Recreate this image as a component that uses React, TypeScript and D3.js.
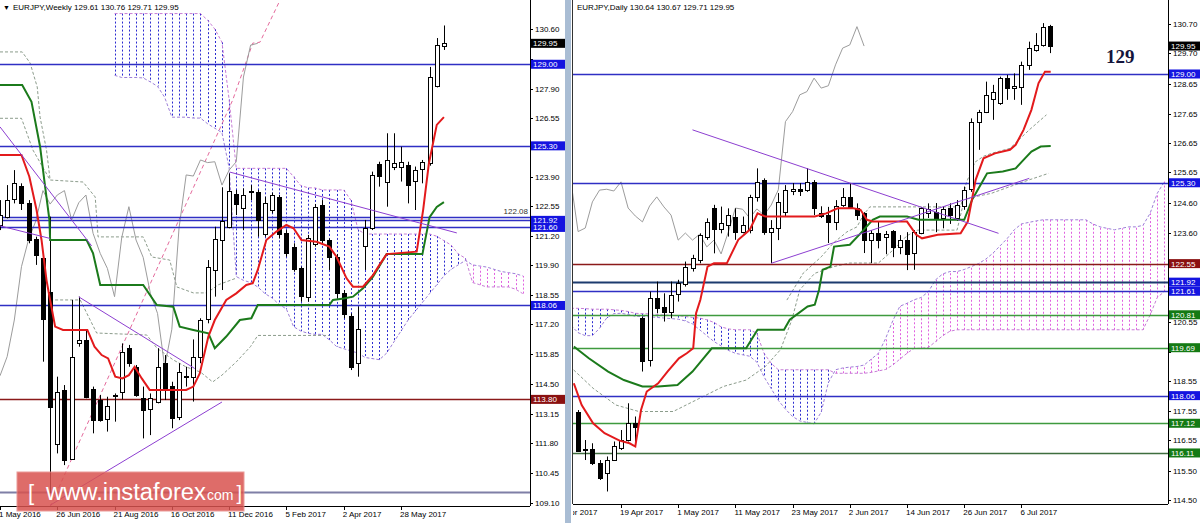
import React from "react";
import * as d3 from "d3";

// ---------------- WEEKLY (left panel) ----------------
const weeklyO = [121.71,122.09,122.87,123.48,122.69,121.06,120.20,118.69,111.81,114.23,111.13,116.37,116.49,114.26,113.77,112.89,113.95,114.15,116.11,115.28,113.85,113.39,113.70,115.44,114.41,113.02,114.83,114.83,115.74,117.48,119.67,121.03,121.63,123.10,122.47,123.21,123.22,121.33,122.39,123.00,121.33,120.73,119.74,118.46,120.88,122.62,121.03,120.24,118.64,117.58,115.44,120.73,121.56,124.48,123.68,124.36,124.36,124.43,123.72,124.28,124.52,128.02,129.80];
const weeklyH = [122.84,123.52,124.20,123.60,122.84,121.18,120.35,122.09,114.83,114.45,118.31,118.46,116.95,114.38,114.00,113.92,114.07,116.34,116.27,115.36,114.38,114.07,116.12,115.81,114.60,115.44,115.28,116.52,117.48,120.12,121.63,123.42,124.05,123.30,123.37,123.52,123.30,122.99,123.18,123.07,121.48,120.88,119.82,121.26,122.66,122.84,121.10,120.39,118.76,117.70,118.01,121.94,124.13,124.58,125.87,125.87,125.26,124.58,124.36,124.66,128.88,130.19,130.76];
const weeklyL = [121.48,122.01,122.69,122.39,120.88,119.90,115.51,109.54,111.35,110.82,111.05,116.19,113.85,112.26,112.79,112.34,112.79,113.80,115.28,113.92,112.03,112.18,113.62,113.77,112.49,112.86,114.38,113.70,115.44,117.25,118.46,118.76,121.56,122.16,121.48,122.84,121.18,121.18,122.24,121.10,120.27,119.59,118.23,118.23,120.73,120.88,119.67,118.38,117.48,115.13,114.83,119.67,121.48,123.45,122.54,124.20,123.68,122.69,122.39,123.60,124.40,127.95,129.65];
const weeklyC = [122.16,122.84,123.60,122.69,121.03,120.35,117.43,113.47,114.15,111.05,115.74,116.49,113.92,112.86,112.86,113.50,114.00,115.96,115.44,114.00,113.32,113.88,115.28,114.23,112.94,115.06,114.87,115.74,117.40,119.82,121.06,121.89,123.27,122.66,123.07,123.27,121.94,122.72,123.07,121.33,120.42,119.74,118.46,121.14,122.54,121.03,120.24,118.61,117.70,115.28,116.98,121.56,123.98,123.93,124.66,124.54,124.58,123.52,124.20,124.58,128.42,129.87,129.95];
const weeklyDateLabels = ["1 May 2016","26 Jun 2016","21 Aug 2016","16 Oct 2016","11 Dec 2016","5 Feb 2017","2 Apr 2017","28 May 2017"];
const weeklyDateIdx = [0,8,16,24,32,40,48,56];
const weeklyTicks = [130.60,129.25,127.90,126.55,125.20,123.90,122.55,121.20,119.90,118.55,117.20,115.85,114.50,113.15,111.80,110.45,109.10];
const weeklyTenkan: [number, number][] = [[0,124.89],[3,124.89],[4.1,123.9],[5.1,122.4],[5.8,121.03],[6.5,119.2],[7,118.31],[7.7,117.1],[8.8,116.95],[12.2,116.95],[13.2,116.19],[14.2,115.81],[15.1,115.66],[16.1,114.83],[17.1,114.75],[18,114.9],[18.8,115.28],[19.8,114.75],[20.9,114.23],[26,114.23],[27,114.38],[27.9,114.98],[29.1,116.65],[30,117.4],[31.6,118.31],[33,118.61],[34.4,118.99],[35.3,119.07],[36,119.67],[37.2,121.03],[38.6,121.41],[40,121.71],[41,121.56],[42.1,121.03],[44.2,120.95],[46,120.73],[47,120.27],[48.4,119.29],[49.3,118.91],[50.7,118.91],[52.1,119.44],[53,119.9],[54,120.39],[58.2,120.5],[59.1,122.4],[59.9,124.5],[61,126.25],[62,126.6]];
const weeklyKijun: [number, number][] = [[0,128.06],[3.1,128.06],[4.4,127.3],[5.6,125.26],[6.3,123.45],[6.9,121.94],[7,121.03],[12.1,121.03],[13,120.42],[14,118.99],[20,118.99],[21.9,118.08],[24.2,118.0],[25.1,117.1],[27,116.95],[29.1,116.8],[30,116.12],[31.6,116.65],[33.5,117.4],[35.1,117.48],[36,118.08],[46,118.08],[46.5,118.31],[48,118.38],[49.3,118.46],[50.7,118.84],[52.1,119.37],[54,120.39],[59,120.39],[60,122.07],[61,122.53],[62,122.75]];
const weeklyCloudStart = 16;
const weeklySpanA = [131.3,131.3,131.3,131.3,131.3,131.3,131.3,131.3,131.3,131.3,131.3,131.3,131.3,131.0,130.6,130.0,127.4,124.28,124.28,124.28,124.28,124.28,124.28,124.28,124.28,123.9,123.5,123.4,123.39,123.3,123.3,123.3,123.3,122.84,121.5,121.3,121.3,121.3,121.3,121.3,121.3,121.3,121.3,121.3,121.3,121.2,121.0,120.8,120.4,120.2,119.1,119.0,118.9,118.9,118.9,118.9,118.8,118.6];
const weeklySpanB = [128.5,128.4,128.4,128.4,128.38,128.2,128.0,127.5,126.6,126.6,126.6,126.56,126.56,126.3,126.1,125.9,124.3,119.37,119.2,119.1,118.9,118.6,118.4,118.1,117.9,117.1,116.9,116.8,116.75,116.75,116.5,116.2,116.1,116.0,115.9,115.7,115.65,115.6,115.9,116.4,116.9,117.4,117.8,118.2,118.6,119.0,119.4,119.7,119.9,120.1,119.9,119.85,119.8,119.7,119.6,119.55,119.5,119.4];
const weeklyDashG1: [number, number][] = [[0,129.56],[3.1,129.56],[4.2,129.06],[5.2,127.97],[5.6,126.6],[6.5,125.1],[7,123.75],[11.6,123.66],[13.3,122.98],[13.7,121.17],[20,121.17],[21.2,120.26],[23.7,120.12],[24.7,118.9],[27,118.63],[28.9,118.63],[30.5,119.0],[33,119.3]];
const weeklyDashG2: [number, number][] = [[7,118.31],[11.2,118.31],[13.5,116.81],[20.5,116.72],[21.9,116.13],[24.2,115.59],[26,115.27],[28,115.04],[29.7,114.59],[31,114.9],[33,115.5],[35,116.2],[36,116.7],[46,116.7]];
const weeklyDashG3: [number, number][] = [[0,126.55],[3,126.55],[4.6,125.11],[7,123.75]];
const weeklyTrends: [number, number][][] = [
  [[0,126.16],[12.8,120.76]],
  [[0,121.67],[7,121.1]],
  [[11,118.45],[27.2,115.2]],
  [[7,109.0],[31,113.68]],
  [[32.1,124.11],[63.8,121.35]],
];
const weeklyPinkDash: [number, number][] = [[7,108.92],[32.5,127.38],[35.3,129.96],[36.3,130.0],[39.1,131.9]];
const weeklyLevels = [129.00,125.30,122.08,121.92,121.60,118.06,113.80,109.60];
const weeklyLevelKinds = ["blue","blue","blue","blue","blue","blue","red","grey"];
const weeklyTags = [129.00,125.30,121.92,121.60,118.06,113.80];
const weeklyTagKinds = ["blue","blue","blue","blue","blue","red"];

// ---------------- DAILY (right panel) ----------------
const dailyStart = 2;
const dailyO = [117.52,116.23,116.24,115.76,115.42,115.87,116.27,116.55,117.12,120.69,119.27,121.37,121.09,120.92,121.49,121.88,122.39,122.68,123.47,124.43,123.70,123.87,124.15,123.64,123.70,124.83,125.40,123.63,123.76,124.31,125.00,125.08,125.05,125.33,124.27,124.20,123.97,124.54,124.82,124.44,124.27,123.35,123.59,123.44,123.66,123.12,123.35,122.91,123.59,124.27,124.30,124.10,124.45,124.10,124.51,125.11,127.38,127.72,128.15,128.00,128.86,128.52,128.57,129.31,129.82,129.99,130.64];
const dailyH = [117.57,116.55,116.44,115.87,115.99,116.50,116.89,117.80,117.35,120.75,121.60,121.94,121.54,121.94,122.00,122.62,122.85,123.58,124.09,124.55,124.49,124.43,124.43,124.15,124.89,125.79,125.45,124.03,124.95,125.22,125.29,125.29,125.80,125.39,124.50,124.48,124.71,125.12,125.29,124.60,124.30,123.69,123.98,123.66,123.69,123.52,123.62,123.69,124.48,124.60,124.61,124.50,124.60,124.71,125.17,127.49,127.78,128.74,128.63,128.91,128.97,129.02,129.42,130.10,130.39,130.73,130.67];
const dailyL = [116.15,115.87,115.70,115.19,114.80,115.87,116.21,116.50,116.33,118.88,119.05,120.86,120.58,120.69,121.26,121.77,122.28,122.56,123.36,122.90,123.58,123.47,123.36,123.58,123.58,124.66,123.53,122.57,123.35,124.14,124.88,124.85,124.99,124.20,124.10,123.25,123.69,124.48,124.44,124.03,122.91,122.57,123.07,122.87,122.77,122.87,122.33,122.34,123.55,124.10,123.62,123.75,123.90,124.00,124.38,124.99,126.42,127.67,127.44,127.95,128.12,128.12,127.95,129.14,129.76,129.93,129.71];
const dailyC = [116.21,116.18,115.76,115.25,115.87,116.33,116.55,117.12,116.98,119.22,121.37,121.03,120.92,121.49,121.88,122.45,122.73,123.53,123.98,123.70,123.92,124.21,123.64,123.87,124.83,125.34,123.64,123.76,124.65,125.05,125.08,125.02,125.33,124.44,124.17,123.97,124.51,124.82,124.48,124.20,123.35,123.59,123.35,123.55,123.12,123.35,122.88,123.62,124.44,124.40,124.10,124.41,124.20,124.54,125.06,127.38,127.72,128.29,128.40,128.86,128.52,128.60,129.31,129.88,129.99,130.61,129.95];
const dailyDateLabels = ["7 Apr 2017","19 Apr 2017","1 May 2017","11 May 2017","23 May 2017","2 Jun 2017","14 Jun 2017","26 Jun 2017","6 Jul 2017"];
const dailyDateIdx = [0,8,16,24,32,40,48,56,64];
const dailyTicks = [130.70,129.70,128.65,127.65,126.65,125.65,124.60,123.60,122.55,121.55,120.55,119.55,118.55,117.55,116.55,115.50,114.50];
const dailyTenkan: [number, number][] = [[1.4,118.48],[2.5,117.74],[4.1,117.12],[5.7,116.78],[7.8,116.53],[9.2,116.44],[10,116.33],[10.8,117.57],[11.6,118.2],[13.2,118.48],[14.5,118.88],[16.1,119.33],[17.2,119.5],[18.1,119.67],[18.5,120.86],[19.1,121.32],[20.1,122.45],[21,122.56],[22.8,122.56],[24.4,123.36],[26,123.7],[27.1,124.26],[28.2,124.15],[35.1,124.15],[36.7,124.26],[38.3,124.43],[40.5,124.43],[41.5,124.38],[42.4,124.04],[43.2,123.98],[48,123.98],[49.3,123.53],[50.1,123.41],[52.3,123.53],[55.5,123.58],[56.5,123.98],[57.6,125.4],[58.7,126.13],[60.3,126.3],[62.4,126.42],[63.2,126.59],[64.3,127.1],[65.4,127.78],[66.4,128.69],[67.3,129.08],[68.1,129.08]];
const dailyKijun: [number, number][] = [[1.4,119.73],[3.5,119.33],[6.2,118.88],[8.4,118.59],[11,118.37],[13.2,118.37],[15.9,118.42],[18,118.88],[20.7,119.67],[25.5,119.67],[27.1,120.3],[30.8,120.3],[31.6,120.64],[34.1,121.09],[35.1,121.15],[35.7,121.66],[36.2,122.34],[37.3,122.45],[37.8,123.13],[40,123.19],[41.5,123.58],[43.2,124.04],[44.2,124.15],[48,124.15],[49.6,124.04],[56,124.04],[57.1,124.72],[57.9,125.06],[58.7,125.4],[59.2,125.62],[61.4,125.68],[63.2,125.79],[64.3,126.08],[65.4,126.36],[66.7,126.53],[68.1,126.55]];
const dailyCloudStart = 1;
const dailySpanA = [121.03,121.03,121.02,121.00,121.00,121.00,120.98,120.96,120.92,120.86,120.85,120.84,120.82,120.80,120.80,120.78,120.75,120.72,120.70,120.64,120.55,120.40,120.33,120.30,120.30,120.30,120.18,119.50,119.16,118.94,118.94,118.94,118.94,118.94,118.94,118.94,118.94,118.82,118.82,118.82,118.82,118.82,118.85,118.90,118.95,119.10,119.30,119.50,119.67,119.67,119.70,119.90,120.10,120.25,120.30,120.30,120.30,120.30,120.30,120.30,120.30,120.30,120.30,120.30,120.30,120.30,120.30,120.30,120.30,120.30,120.30,120.30,120.30,120.30,120.30,120.30,120.30,120.30,120.30,120.30,120.30,120.80,121.40,121.60];
const dailySpanB = [120.45,120.20,120.10,120.10,120.35,120.70,120.85,120.86,120.82,120.76,120.75,120.74,120.72,120.70,120.68,120.66,120.60,120.50,120.30,120.10,119.90,119.75,119.60,119.50,119.45,119.40,119.20,118.70,118.30,117.90,117.60,117.35,117.20,117.15,117.10,117.50,118.50,118.94,119.00,119.03,119.05,119.10,119.30,119.50,120.00,120.60,121.10,121.20,121.32,121.40,121.60,122.00,122.20,122.28,122.28,122.35,122.45,122.55,122.70,122.90,123.15,123.40,123.70,123.90,123.95,124.00,124.04,124.04,124.04,124.04,124.04,124.04,124.04,123.90,123.80,123.75,123.70,123.75,123.80,123.80,123.85,124.26,124.94,125.34];
const dailyDashA: [number, number][] = [[0.87,119.05],[4.1,118.31],[7.3,117.74],[10.5,117.52],[15.3,117.52],[18.5,117.91],[22.3,118.37],[25.5,118.59],[28.2,119.05],[30.3,119.62],[31.9,120.64],[33,121.66],[35.1,122.22],[37.8,122.45],[40,122.57],[44,122.57],[46,123.0],[48,123.5],[49.5,123.69],[55,123.69],[56,124.72],[57.6,124.83],[59.8,124.94],[62.4,125.17],[65.1,125.4],[67.8,125.62]];
const dailyDashB: [number, number][] = [[31.2,121.31],[33.5,122.23],[36,122.78],[37.7,123.25],[39.6,123.63],[41,123.8],[41.9,124.2],[42.8,124.48],[55.5,124.48],[56.3,125.3],[57.5,126.0],[58.7,126.2],[59.8,126.3],[62.4,126.47],[65.1,127.1],[67.5,127.61]];
const dailyTrends: [number, number][][] = [
  [[18,127.1],[60.8,123.58]],
  [[29,122.56],[65.1,125.45]],
];
const dailyLevels = [129.00,125.30,122.55,121.92,121.61,120.81,119.69,118.06,117.12,116.11];
const dailyLevelKinds = ["blue","blue","red","navy","blue","green","green","blue","green","dgreen"];
const dailyTagKinds = ["blue","blue","red","blue","blue","green","green","blue","green","green"];

const LEVEL_COLORS: Record<string, string> = { blue: "#2f2fc4", red: "#8b1a1a", grey: "#7f7fa6", navy: "#1c3b6e", green: "#3f9a3f", dgreen: "#3f6e3f" };
const TAG_COLORS: Record<string, string> = { blue: "#1414e0", red: "#8a1010", green: "#147a14", black: "#000000" };
const FONT = "'Liberation Sans', Arial, sans-serif";

type XY = [number, number];

function Candles(props: { o: number[]; h: number[]; l: number[]; c: number[]; start: number; xs: (v: number) => number; ys: (v: number) => number }) {
  const { o, h, l, c, start, xs, ys } = props;
  return (
    <g>
      {o.map((ov, k) => {
        const x = Math.round(xs(start + k)) + 0.5;
        const yo = ys(ov), yc = ys(c[k]);
        const up = c[k] >= ov;
        const top = Math.round(Math.min(yo, yc)) + 0.5;
        const hh = Math.max(1, Math.round(Math.abs(yo - yc)));
        return (
          <g key={k}>
            <line x1={x} x2={x} y1={ys(h[k])} y2={ys(l[k])} stroke="#000" strokeWidth={1} />
            <rect x={x - 2} y={top} width={4} height={hh} fill={up ? "#fff" : "#000"} stroke="#000" strokeWidth={1} />
          </g>
        );
      })}
    </g>
  );
}

function Cloud(props: { a: number[]; b: number[]; start: number; xs: (v: number) => number; ys: (v: number) => number }) {
  const { a, b, start, xs, ys } = props;
  const la = d3.line<XY>().x(d => xs(d[0])).y(d => ys(d[1]));
  const ptsA: XY[] = a.map((v, k) => [start + k, v]);
  const ptsB: XY[] = b.map((v, k) => [start + k, v]);
  return (
    <g>
      {a.map((v, k) => {
        const x = Math.round(xs(start + k)) + 0.5;
        const blue = v >= b[k];
        return <line key={k} x1={x} x2={x} y1={ys(v)} y2={ys(b[k])} stroke={blue ? "#2b2bd0" : "#e060e0"} strokeWidth={1} strokeDasharray="2,2" />;
      })}
      <path d={la(ptsA) || ""} fill="none" stroke="#c77dd6" strokeWidth={1} strokeDasharray="3,2" />
      <path d={la(ptsB) || ""} fill="none" stroke="#9d7fd8" strokeWidth={1} strokeDasharray="3,2" />
    </g>
  );
}

function Tag(props: { x: number; w: number; y: number; text: string; bg: string }) {
  const { x, w, y, text, bg } = props;
  return (
    <g>
      <rect x={x} y={y - 4.5} width={w} height={9} fill={bg} />
      <text x={x + 2} y={y + 3} fill="#fff" fontSize={8} fontFamily={FONT}>{text}</text>
    </g>
  );
}

// tick labels that sit right under a price tag are hidden by it in the terminal
function visibleTicks(ticks: number[], tags: number[], ys: (v: number) => number): number[] {
  return ticks.filter(t => tags.every(g => Math.abs(ys(t) - ys(g)) > 6));
}

export default function App() {
  const xW = d3.scaleLinear().domain([0, 74]).range([0, 74 * 7.16]);
  const yW = d3.scaleLinear().domain([109.1, 130.6]).range([503, 29]);
  const xD = d3.scaleLinear().domain([0, 84]).range([563.8, 563.8 + 84 * 7.15]);
  const yD = d3.scaleLinear().domain([114.5, 130.7]).range([500.3, 24]);
  const lW = d3.line<XY>().x(d => xW(d[0])).y(d => yW(d[1]));
  const lD = d3.line<XY>().x(d => xD(d[0])).y(d => yD(d[1]));

  const chikouW: XY[] = [];
  for (let i = 0; i + 26 < weeklyC.length; i++) chikouW.push([i, weeklyC[i + 26]]);
  const chikouD: XY[] = [];
  for (let j = 0; j + 26 - dailyStart < dailyC.length; j++) chikouD.push([j, dailyC[j + 26 - dailyStart]]);

  const LX0 = 0, LX1 = 530, LY1 = 506;
  const RX0 = 573, RX1 = 1168, RY1 = 504;
  const lastW = weeklyC[weeklyC.length - 1];
  const lastD = dailyC[dailyC.length - 1];
  const wTicks = visibleTicks(weeklyTicks, weeklyTags.concat([lastW]), yW);
  const dTicks = visibleTicks(dailyTicks, dailyLevels.concat([lastD]), yD);

  return (
    <svg width={1200} height={523} style={{ position: "absolute", left: 0, top: 0, background: "#fff" }} fontFamily={FONT}>
      <defs>
        <clipPath id="clipL"><rect x={LX0} y={0} width={LX1 - LX0} height={LY1} /></clipPath>
        <clipPath id="clipR"><rect x={RX0} y={0} width={RX1 - RX0} height={RY1} /></clipPath>
        <clipPath id="clipRDates"><rect x={RX0} y={RY1} width={RX1 - RX0} height={523 - RY1} /></clipPath>
      </defs>
      <rect x={0} y={0} width={1200} height={523} fill="#fff" />

      {/* LEFT PANEL */}
      <g clipPath="url(#clipL)">
        <Cloud a={weeklySpanA} b={weeklySpanB} start={weeklyCloudStart} xs={xW} ys={yW} />
        {[weeklyDashG1, weeklyDashG2, weeklyDashG3].map((p, k) => (
          <path key={k} d={lW(p) || ""} fill="none" stroke="#8c9c8c" strokeWidth={1} strokeDasharray="3,2" />
        ))}
        <path d={lW(weeklyPinkDash) || ""} fill="none" stroke="#e46a9c" strokeWidth={1} strokeDasharray="4,3" />
        <path d={lW(chikouW) || ""} fill="none" stroke="#9c9c9c" strokeWidth={1} />
        {weeklyLevels.map((v, k) => (
          <line key={k} x1={LX0} x2={LX1} y1={Math.round(yW(v)) + 0.5} y2={Math.round(yW(v)) + 0.5}
            stroke={LEVEL_COLORS[weeklyLevelKinds[k]]} strokeWidth={weeklyLevelKinds[k] === "grey" ? 2 : 1.3} />
        ))}
        <Candles o={weeklyO} h={weeklyH} l={weeklyL} c={weeklyC} start={0} xs={xW} ys={yW} />
        <path d={lW(weeklyKijun) || ""} fill="none" stroke="#1b7a1b" strokeWidth={2} />
        <path d={lW(weeklyTenkan) || ""} fill="none" stroke="#e31a1c" strokeWidth={2} />
        {weeklyTrends.map((p, k) => (
          <path key={k} d={lW(p) || ""} fill="none" stroke="#8d3fd1" strokeWidth={1} />
        ))}
      </g>
      <text x={LX1 - 2} y={yW(122.08) - 3} textAnchor="end" fontSize={8} fill="#333">122.08</text>

      {/* left axes */}
      <line x1={LX1 + 0.5} x2={LX1 + 0.5} y1={0} y2={LY1} stroke="#000" />
      <line x1={0} x2={LX1} y1={LY1 + 0.5} y2={LY1 + 0.5} stroke="#000" />
      {weeklyTicks.map((v, k) => (
        <line key={k} x1={LX1} x2={LX1 + 3} y1={Math.round(yW(v)) + 0.5} y2={Math.round(yW(v)) + 0.5} stroke="#000" />
      ))}
      {wTicks.map((v, k) => (
        <text key={k} x={LX1 + 5} y={yW(v) + 3} fontSize={8} fill="#000">{v.toFixed(2)}</text>
      ))}
      {weeklyDateIdx.map((i, k) => (
        <g key={k}>
          <line x1={Math.round(xW(i)) + 0.5} x2={Math.round(xW(i)) + 0.5} y1={LY1} y2={LY1 + 4} stroke="#000" />
          <text x={xW(i) - 1} y={517} fontSize={8} fill="#000">{weeklyDateLabels[k]}</text>
        </g>
      ))}
      {weeklyTags.map((v, k) => (
        <Tag key={k} x={LX1 + 1} w={34} y={yW(v)} text={v.toFixed(2)} bg={TAG_COLORS[weeklyTagKinds[k]]} />
      ))}
      <Tag x={LX1 + 1} w={34} y={yW(lastW)} text={lastW.toFixed(2)} bg={TAG_COLORS.black} />
      <text x={3} y={10} fontSize={7} fill="#000">▼</text>
      <text x={13} y={10} fontSize={8} fill="#000">EURJPY,Weekly  129.61 130.76 129.71 129.95</text>

      {/* separator */}
      <rect x={565} y={0} width={6} height={523} fill="#a9bdd4" />
      <line x1={572.5} x2={572.5} y1={0} y2={RY1} stroke="#333" />

      {/* RIGHT PANEL */}
      <g clipPath="url(#clipR)">
        <Cloud a={dailySpanA} b={dailySpanB} start={dailyCloudStart} xs={xD} ys={yD} />
        {[dailyDashA, dailyDashB].map((p, k) => (
          <path key={k} d={lD(p) || ""} fill="none" stroke="#8c9c8c" strokeWidth={1} strokeDasharray="3,2" />
        ))}
        <path d={lD(chikouD) || ""} fill="none" stroke="#9c9c9c" strokeWidth={1} />
        {dailyLevels.map((v, k) => (
          <line key={k} x1={RX0} x2={RX1} y1={Math.round(yD(v)) + 0.5} y2={Math.round(yD(v)) + 0.5}
            stroke={LEVEL_COLORS[dailyLevelKinds[k]]} strokeWidth={dailyLevelKinds[k] === "navy" ? 2.2 : 1.3} />
        ))}
        <Candles o={dailyO} h={dailyH} l={dailyL} c={dailyC} start={dailyStart} xs={xD} ys={yD} />
        <path d={lD(dailyKijun) || ""} fill="none" stroke="#1b7a1b" strokeWidth={2} />
        <path d={lD(dailyTenkan) || ""} fill="none" stroke="#e31a1c" strokeWidth={2} />
        {dailyTrends.map((p, k) => (
          <path key={k} d={lD(p) || ""} fill="none" stroke="#8d3fd1" strokeWidth={1} />
        ))}
      </g>
      <text x={1106} y={63} fontSize={19} fontWeight="bold" fontFamily="'Liberation Serif', 'Times New Roman', serif" fill="#14143c">129</text>

      {/* right axes */}
      <line x1={RX1 + 0.5} x2={RX1 + 0.5} y1={0} y2={RY1} stroke="#000" />
      <line x1={RX0} x2={RX1} y1={RY1 + 0.5} y2={RY1 + 0.5} stroke="#000" />
      {dailyTicks.map((v, k) => (
        <line key={k} x1={RX1} x2={RX1 + 3} y1={Math.round(yD(v)) + 0.5} y2={Math.round(yD(v)) + 0.5} stroke="#000" />
      ))}
      {dTicks.map((v, k) => (
        <text key={k} x={RX1 + 5} y={yD(v) + 3} fontSize={8} fill="#000">{v.toFixed(2)}</text>
      ))}
      <g clipPath="url(#clipRDates)">
        {dailyDateIdx.map((i, k) => (
          <g key={k}>
            <line x1={Math.round(xD(i)) + 0.5} x2={Math.round(xD(i)) + 0.5} y1={RY1} y2={RY1 + 4} stroke="#000" />
            <text x={k === 0 ? xD(i) - 5 : xD(i) - 1} y={515} fontSize={8} fill="#000">{dailyDateLabels[k]}</text>
          </g>
        ))}
      </g>
      {dailyLevels.map((v, k) => (
        <Tag key={k} x={RX1 + 1} w={32} y={yD(v)} text={v.toFixed(2)} bg={TAG_COLORS[dailyTagKinds[k]]} />
      ))}
      <Tag x={RX1 + 1} w={32} y={yD(lastD)} text={lastD.toFixed(2)} bg={TAG_COLORS.black} />
      <text x={577} y={10} fontSize={8} fill="#000">EURJPY,Daily  130.64 130.67 129.71 129.95</text>

      {/* watermark */}
      <g>
        <rect x={17} y={472} width={227} height={39} fill="#d9534f" opacity={0.85} stroke="#e88a88" />
        <text x={28} y={500} fill="#fff" fontSize={22} fontFamily={FONT}>[</text>
        <text x={46} y={500} fill="#fff" fontSize={23} fontFamily={FONT} textLength={160} lengthAdjust="spacingAndGlyphs">www.instaforex</text>
        <text x={207} y={500} fill="#fff" fontFamily={FONT}>
          <tspan fontSize={14}>com</tspan>
          <tspan fontSize={20} dx={3}>]</tspan>
        </text>
      </g>
    </svg>
  );
}
